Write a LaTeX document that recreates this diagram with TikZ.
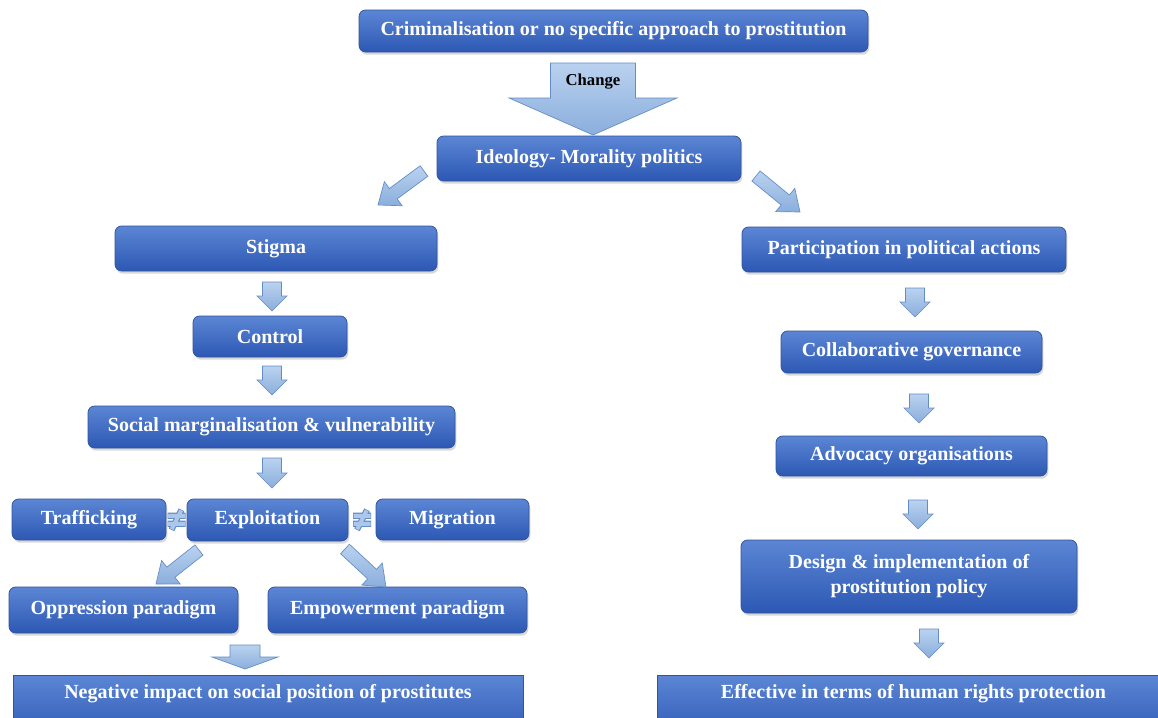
\documentclass[tikz,border=0pt]{standalone}
\usepackage{fontspec}
\setmainfont{Liberation Serif}
\usetikzlibrary{calc,shadows}
\definecolor{boxtop}{RGB}{92,134,212}
\definecolor{boxbot}{RGB}{44,88,180}
\definecolor{boxborder}{RGB}{50,84,158}
\definecolor{arrtop}{RGB}{186,210,239}
\definecolor{arrbot}{RGB}{138,174,220}
\definecolor{arrborder}{RGB}{100,140,198}
\tikzset{
  box/.style={rounded corners=5pt, draw=boxborder, line width=0.6pt,
    top color=boxtop, bottom color=boxbot, text=white, align=center,
    font=\bfseries\fontsize{15}{18.75}\selectfont, inner sep=0pt,
    drop shadow={shadow xshift=1pt, shadow yshift=-2pt, opacity=0.3}},
  flatbox/.style={box, rounded corners=0pt, text depth=24pt},
  blk/.style={draw=arrborder, line width=0.5pt, top color=arrtop, bottom color=arrbot},
  lbl/.style={font=\bfseries\fontsize{12.5}{14}\selectfont, text=black, inner sep=0pt}
}
% #1 style, #2 name, #3 x1, #4 y1, #5 x2, #6 y2, #7 text
\newcommand\bx[7]{\node[#1, minimum width={(#5-#3)*0.75pt}, minimum height={(#6-#4)*0.75pt}] (#2) at ({(#3+#5)/2},{(#4+#6)/2}) {#7};}
% block arrow: #1 tail, #2 tip, #3 half shaft, #4 half head, #5 head length (px)
\newcommand\barrow[5]{%
  \coordinate (hb) at ($(#2)!#5*0.75pt!(#1)$);
  \path[blk] ($(#1)!#3*0.75pt!90:(#2)$) -- ($(hb)!#3*0.75pt!-90:(#1)$)
    -- ($(hb)!#4*0.75pt!-90:(#1)$) -- (#2) -- ($(hb)!#4*0.75pt!90:(#1)$)
    -- ($(hb)!#3*0.75pt!90:(#1)$) -- ($(#1)!#3*0.75pt!-90:(#2)$) -- cycle;}
% not-equal sign centred at #1
\newcommand\neqsign[1]{%
  \begin{scope}[shift={(#1)}]
    \draw[arrborder, line width=4.6pt] (-9,-4) -- (9,-4) (-9,4) -- (9,4) (5,-10) -- (-5,10);
    \draw[arrtop!70!arrbot, line width=3pt] (-8.5,-4) -- (8.5,-4) (-8.5,4) -- (8.5,4) (4.7,-9.4) -- (-4.7,9.4);
  \end{scope}}
\begin{document}
\begin{tikzpicture}[x=0.75pt,y=-0.75pt]
\useasboundingbox (0,0) rectangle (1158,718);
\clip (0,0) rectangle (1158,718);
\fill[white] (0,0) rectangle (1158,718);

% boxes
\bx{box}{top}{359}{10}{868}{52}{Criminalisation or no specific approach to prostitution}
\bx{box}{ideo}{437}{136}{741}{181}{Ideology- Morality politics}
\bx{box}{stigma}{115}{226}{437}{271}{Stigma}
\bx{box}{part}{742}{227}{1066}{272}{Participation in political actions}
\bx{box}{control}{193}{316}{347}{357}{Control}
\bx{box}{social}{88}{406}{455}{448}{Social marginalisation \& vulnerability}
\bx{box}{traff}{12}{499}{166}{540}{Trafficking}
\bx{box}{expl}{187}{499}{348}{541}{Exploitation}
\bx{box}{migr}{376}{499}{529}{540}{Migration}
\bx{box}{oppr}{9}{587}{238}{633}{Oppression paradigm}
\bx{box}{empow}{268}{587}{527}{633}{Empowerment paradigm}
\bx{flatbox}{neg}{13}{675}{523}{740}{Negative impact on social position of prostitutes}
\bx{box}{collab}{781}{331}{1042}{373}{Collaborative governance}
\bx{box}{advoc}{776}{436}{1047}{476}{Advocacy organisations}
\bx{box}{design}{741}{540}{1077}{613}{Design \& implementation of\\prostitution policy}
\bx{flatbox}{effect}{657}{675}{1170}{740}{Effective in terms of human rights protection}

% arrow end points
\coordinate (chT) at (593,63);  \coordinate (chH) at (593,135);
\coordinate (ilT) at (424,171); \coordinate (ilH) at (378,205);
\coordinate (irT) at (756,176); \coordinate (irH) at (800,212);
\coordinate (s1T) at (272,282); \coordinate (s1H) at (272,311);
\coordinate (s2T) at (272,366); \coordinate (s2H) at (272,395);
\coordinate (s3T) at (272,458); \coordinate (s3H) at (272,488);
\coordinate (elT) at (199,550); \coordinate (elH) at (156,584);
\coordinate (erT) at (345,549); \coordinate (erH) at (386,587);
\coordinate (bT) at (245,645);  \coordinate (bH) at (245,669);
\coordinate (r1T) at (915,288); \coordinate (r1H) at (915,317);
\coordinate (r2T) at (919,394); \coordinate (r2H) at (919,423);
\coordinate (r3T) at (918,500); \coordinate (r3H) at (918,529);
\coordinate (r4T) at (929,629); \coordinate (r4H) at (929,658);

\barrow{chT}{chH}{42.5}{84}{37}
\node[lbl] (change) at (593,82) {Change};
\barrow{ilT}{ilH}{6.5}{15}{19}
\barrow{irT}{irH}{6.5}{15}{19}
\barrow{s1T}{s1H}{9.5}{15}{15}
\barrow{s2T}{s2H}{9.5}{15}{15}
\barrow{s3T}{s3H}{9.5}{15}{15}
\barrow{elT}{elH}{6.5}{15}{19}
\barrow{erT}{erH}{6.5}{15}{19}
\barrow{bT}{bH}{15}{33}{12}
\barrow{r1T}{r1H}{9.5}{15}{15}
\barrow{r2T}{r2H}{9.5}{15}{15}
\barrow{r3T}{r3H}{9.5}{15}{15}
\barrow{r4T}{r4H}{9.5}{15}{15}

\coordinate (ne1) at ($(traff.east)!0.5!(expl.west)$);
\coordinate (ne2) at ($(expl.east)!0.5!(migr.west)$);
\neqsign{ne1}
\neqsign{ne2}
\end{tikzpicture}
\end{document}
